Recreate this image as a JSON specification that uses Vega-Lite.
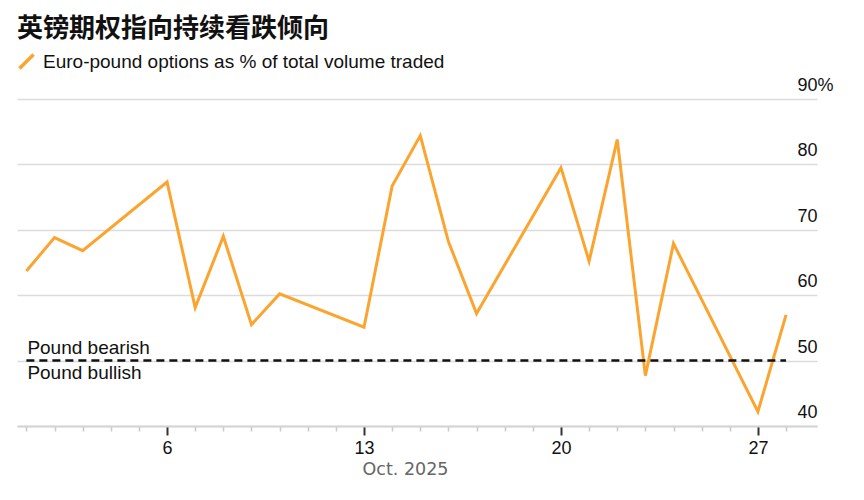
{
  "$schema": "https://vega.github.io/schema/vega-lite/v6.json",
  "width": 800,
  "height": 327,
  "autosize": {"type": "none"},
  "padding": {"left": 17, "top": 99, "right": 47, "bottom": 74},
  "background": "white",
  "title": {
    "text": "英镑期权指向持续看跌倾向",
    "anchor": "start",
    "frame": "group",
    "font": "Noto Sans CJK SC",
    "fontSize": 26,
    "fontWeight": "bold",
    "color": "#111111",
    "baseline": "alphabetic",
    "offset": 19,
    "dy": 30
  },
  "config": {
    "view": {"stroke": null},
    "font": "Liberation Sans"
  },
  "datasets": {
    "options": [
      {"date": "2025-10-01", "pct": 63.7, "series": "Euro-pound options as % of total volume traded"},
      {"date": "2025-10-02", "pct": 68.8, "series": "Euro-pound options as % of total volume traded"},
      {"date": "2025-10-03", "pct": 66.8, "series": "Euro-pound options as % of total volume traded"},
      {"date": "2025-10-06", "pct": 77.3, "series": "Euro-pound options as % of total volume traded"},
      {"date": "2025-10-07", "pct": 58.1, "series": "Euro-pound options as % of total volume traded"},
      {"date": "2025-10-08", "pct": 69.0, "series": "Euro-pound options as % of total volume traded"},
      {"date": "2025-10-09", "pct": 55.5, "series": "Euro-pound options as % of total volume traded"},
      {"date": "2025-10-10", "pct": 60.2, "series": "Euro-pound options as % of total volume traded"},
      {"date": "2025-10-13", "pct": 55.1, "series": "Euro-pound options as % of total volume traded"},
      {"date": "2025-10-14", "pct": 76.7, "series": "Euro-pound options as % of total volume traded"},
      {"date": "2025-10-15", "pct": 84.4, "series": "Euro-pound options as % of total volume traded"},
      {"date": "2025-10-16", "pct": 68.2, "series": "Euro-pound options as % of total volume traded"},
      {"date": "2025-10-17", "pct": 57.2, "series": "Euro-pound options as % of total volume traded"},
      {"date": "2025-10-20", "pct": 79.5, "series": "Euro-pound options as % of total volume traded"},
      {"date": "2025-10-21", "pct": 65.2, "series": "Euro-pound options as % of total volume traded"},
      {"date": "2025-10-22", "pct": 83.8, "series": "Euro-pound options as % of total volume traded"},
      {"date": "2025-10-23", "pct": 47.7, "series": "Euro-pound options as % of total volume traded"},
      {"date": "2025-10-24", "pct": 67.9, "series": "Euro-pound options as % of total volume traded"},
      {"date": "2025-10-27", "pct": 42.2, "series": "Euro-pound options as % of total volume traded"},
      {"date": "2025-10-28", "pct": 57.0, "series": "Euro-pound options as % of total volume traded"}
    ],
    "threshold": [
      {"start": "2025-10-01", "end": "2025-10-28", "level": 50}
    ],
    "zones": [
      {"date": "2025-10-01", "level": 50, "label": "Pound bearish"},
      {"date": "2025-10-01", "level": 50, "label": "Pound bullish"}
    ]
  },
  "layer": [
    {
      "data": {"name": "options"},
      "mark": {"type": "line", "strokeWidth": 3, "strokeJoin": "miter"},
      "encoding": {
        "x": {
          "field": "date",
          "type": "temporal",
          "scale": {
            "type": "utc",
            "domain": [
              {"year": 2025, "month": 9, "date": 30, "hours": 16, "utc": true},
              {"year": 2025, "month": 10, "date": 29, "hours": 2, "minutes": 24, "utc": true}
            ]
          },
          "axis": {
            "tickCount": 60,
            "values": [
              {"year": 2025, "month": 10, "date": 1, "utc": true},
              {"year": 2025, "month": 10, "date": 2, "utc": true},
              {"year": 2025, "month": 10, "date": 3, "utc": true},
              {"year": 2025, "month": 10, "date": 4, "utc": true},
              {"year": 2025, "month": 10, "date": 5, "utc": true},
              {"year": 2025, "month": 10, "date": 6, "utc": true},
              {"year": 2025, "month": 10, "date": 7, "utc": true},
              {"year": 2025, "month": 10, "date": 8, "utc": true},
              {"year": 2025, "month": 10, "date": 9, "utc": true},
              {"year": 2025, "month": 10, "date": 10, "utc": true},
              {"year": 2025, "month": 10, "date": 11, "utc": true},
              {"year": 2025, "month": 10, "date": 12, "utc": true},
              {"year": 2025, "month": 10, "date": 13, "utc": true},
              {"year": 2025, "month": 10, "date": 14, "utc": true},
              {"year": 2025, "month": 10, "date": 15, "utc": true},
              {"year": 2025, "month": 10, "date": 16, "utc": true},
              {"year": 2025, "month": 10, "date": 17, "utc": true},
              {"year": 2025, "month": 10, "date": 18, "utc": true},
              {"year": 2025, "month": 10, "date": 19, "utc": true},
              {"year": 2025, "month": 10, "date": 20, "utc": true},
              {"year": 2025, "month": 10, "date": 21, "utc": true},
              {"year": 2025, "month": 10, "date": 22, "utc": true},
              {"year": 2025, "month": 10, "date": 23, "utc": true},
              {"year": 2025, "month": 10, "date": 24, "utc": true},
              {"year": 2025, "month": 10, "date": 25, "utc": true},
              {"year": 2025, "month": 10, "date": 26, "utc": true},
              {"year": 2025, "month": 10, "date": 27, "utc": true},
              {"year": 2025, "month": 10, "date": 28, "utc": true}
            ],
            "labelExpr": "utcday(datum.value) === 1 ? utcFormat(datum.value, '%-d') : ''",
            "tickSize": {"condition": {"test": "utcday(datum.value) === 1", "value": 9}, "value": 5},
            "tickColor": {"condition": {"test": "utcday(datum.value) === 1", "value": "#333333"}, "value": "#c8c8c8"},
            "tickWidth": {"condition": {"test": "utcday(datum.value) === 1", "value": 2}, "value": 1.5},
            "grid": false,
            "domainColor": "#d4d4d4",
            "domainWidth": 2,
            "labelFontSize": 18,
            "labelColor": "#111111",
            "labelPadding": 4,
            "labelFlush": false,
            "labelOverlap": false,
            "title": "Oct. 2025",
            "titleFont": "DejaVu Sans",
            "titleFontSize": 17.5,
            "titleFontWeight": "normal",
            "titleColor": "#666666",
            "titleAnchor": "start",
            "titleAlign": "left",
            "titleBaseline": "alphabetic",
            "titleX": 345,
            "titleY": 48.5
          }
        },
        "y": {
          "field": "pct",
          "type": "quantitative",
          "scale": {"domain": [40, 90], "nice": false, "zero": false},
          "axis": {
            "orient": "right",
            "values": [40, 50, 60, 70, 80, 90],
            "grid": true,
            "gridColor": "#dcdcdc",
            "gridWidth": 1.5,
            "domain": false,
            "ticks": false,
            "labelAlign": "left",
            "labelBaseline": "alphabetic",
            "labelPadding": -20,
            "labelOffset": -8.5,
            "labelFontSize": 18,
            "labelColor": "#111111",
            "labelFlush": false,
            "labelOverlap": false,
            "labelExpr": "datum.value == 90 ? '90%' : datum.label",
            "title": null
          }
        },
        "color": {
          "field": "series",
          "type": "nominal",
          "scale": {"range": ["#fba42f"]},
          "legend": {
            "orient": "none",
            "legendX": 0,
            "legendY": -47,
            "title": null,
            "padding": 0,
            "symbolType": "M-1,1L1,-1",
            "symbolSize": 200,
            "symbolStrokeWidth": 3.5,
            "labelFontSize": 19,
            "labelColor": "#111111",
            "labelOffset": 7,
            "labelLimit": 600
          }
        }
      }
    },
    {
      "data": {"name": "threshold"},
      "mark": {"type": "rule", "strokeDash": [8, 5], "strokeWidth": 2.5, "color": "#111111"},
      "encoding": {
        "x": {"field": "start", "type": "temporal"},
        "x2": {"field": "end"},
        "y": {"field": "level", "type": "quantitative"}
      }
    },
    {
      "data": {"name": "zones"},
      "transform": [{"filter": "datum.label === 'Pound bearish'"}],
      "mark": {"type": "text", "align": "left", "baseline": "alphabetic", "dx": 1, "dy": -6.7, "fontSize": 19, "color": "#111111"},
      "encoding": {
        "x": {"field": "date", "type": "temporal"},
        "y": {"field": "level", "type": "quantitative"},
        "text": {"field": "label"}
      }
    },
    {
      "data": {"name": "zones"},
      "transform": [{"filter": "datum.label === 'Pound bullish'"}],
      "mark": {"type": "text", "align": "left", "baseline": "alphabetic", "dx": 1, "dy": 18.3, "fontSize": 19, "color": "#111111"},
      "encoding": {
        "x": {"field": "date", "type": "temporal"},
        "y": {"field": "level", "type": "quantitative"},
        "text": {"field": "label"}
      }
    }
  ]
}
